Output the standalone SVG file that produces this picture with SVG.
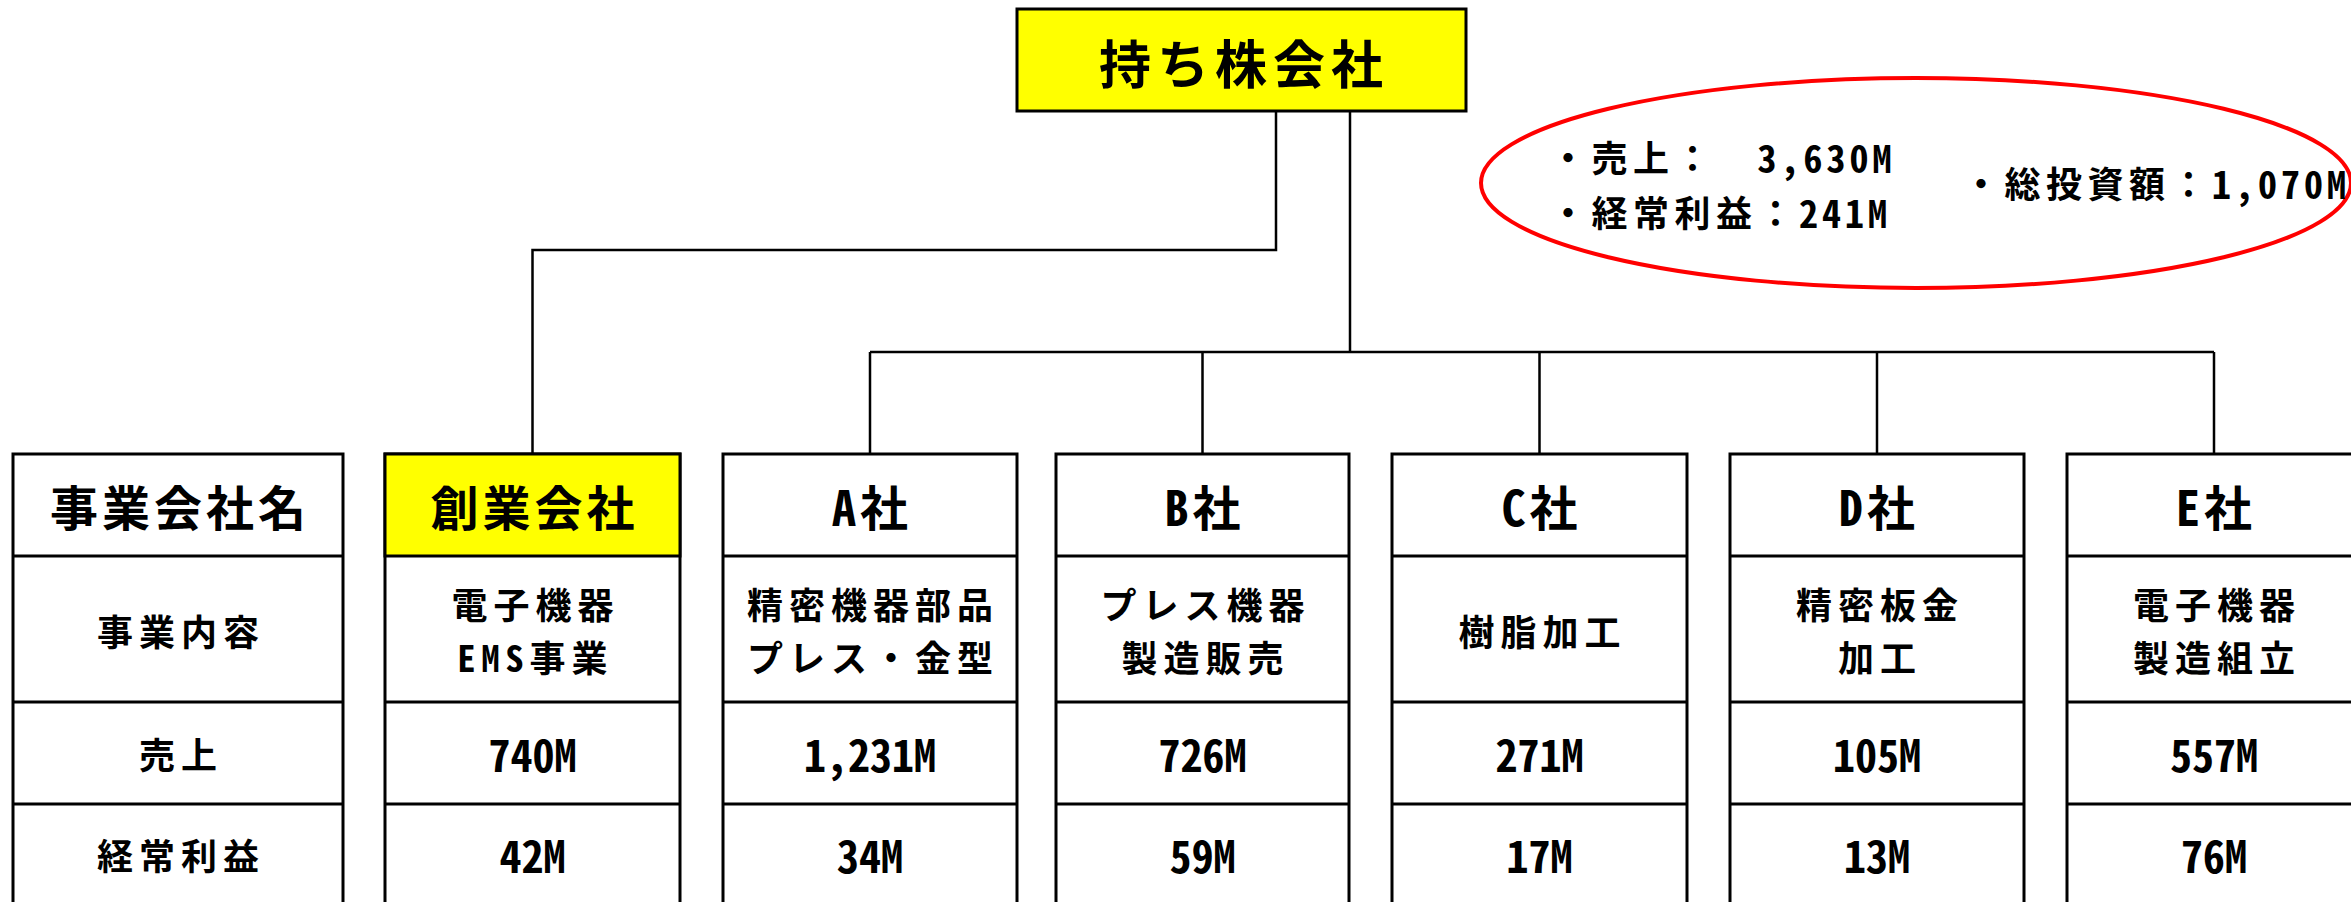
<svg xmlns="http://www.w3.org/2000/svg" width="2351" height="902" viewBox="0 0 2351 902">
<style>
.box{fill:#fff;stroke:#000;stroke-width:3}
.yel{fill:#ff0;stroke:#000;stroke-width:3}
.sep{fill:none;stroke:#000;stroke-width:3}
.con{fill:none;stroke:#000;stroke-width:2.5}
.t{font-family:'Noto Sans CJK JP','Noto Sans CJK SC',sans-serif;font-weight:700;fill:#000;text-anchor:middle;dominant-baseline:central}
.hw{font-feature-settings:"hwid"}
.hd{font-feature-settings:"hwid";font-size:38px;letter-spacing:4px}
.s{text-anchor:start}
.ti{font-size:52px;letter-spacing:6px}
.h{font-size:48px;letter-spacing:4px}
.c{font-size:36px;letter-spacing:6px}
.n{font-size:44px;font-feature-settings:"hwid"}
.e{font-size:36px;letter-spacing:5.5px}
</style>
<rect width="2351" height="902" fill="#fff"/>
<g id="connectors">
<path class="con" d="M1276 111V250H532.5V454"/>
<path class="con" d="M1350 111V352"/>
<path class="con" d="M870 352H2214"/>
<path class="con" d="M870 352V454M1202.5 352V454M1539.5 352V454M1877 352V454M2214 352V454"/>
</g>
<g id="holding">
<rect class="yel" x="1017" y="9" width="449" height="102" stroke-width="3.5"/>
<text class="t ti" x="1244" y="61">持ち株会社</text>
</g>
<g id="summary">
<ellipse cx="1916" cy="183" rx="435" ry="105" fill="none" stroke="#f00" stroke-width="4"/>
<text class="t e s" x="1550" y="156">・売上：　<tspan class="hd">3,630M</tspan></text>
<text class="t e s" x="1550" y="211">・経常利益：<tspan class="hd">241M</tspan></text>
<text class="t e s" x="1963" y="182">・総投資額：<tspan class="hd">1,070M</tspan></text>
</g>
<g id="col-label">
<rect class="box" x="13" y="454" width="330" height="452"/>
<path class="sep" d="M13 556H343M13 702H343M13 804H343"/>
<text class="t h" x="180" y="505">事業会社名</text>
<text class="t c" x="181" y="630">事業内容</text>
<text class="t c" x="181" y="753">売上</text>
<text class="t c" x="181" y="854">経常利益</text>
</g>
<g id="col-founder">
<rect class="box" x="385" y="454" width="295" height="452"/>
<rect class="yel" x="385" y="454" width="295" height="102"/>
<path class="sep" d="M385 702H680M385 804H680"/>
<text class="t h" x="534.5" y="505">創業会社</text>
<text class="t c"><tspan x="535.5" y="603">電子機器</tspan><tspan x="535.5" y="656"><tspan class="hw">EMS</tspan>事業</tspan></text>
<text class="t n" x="532.5" y="753">740M</text>
<text class="t n" x="532.5" y="854">42M</text>
</g>
<g id="col-a">
<rect class="box" x="723" y="454" width="294" height="452"/>
<path class="sep" d="M723 556H1017M723 702H1017M723 804H1017"/>
<text class="t h" x="872" y="505"><tspan class="hw">A</tspan>社</text>
<text class="t c"><tspan x="873" y="603">精密機器部品</tspan><tspan x="873" y="656">プレス・金型</tspan></text>
<text class="t n" x="870" y="753">1,231M</text>
<text class="t n" x="870" y="854">34M</text>
</g>
<g id="col-b">
<rect class="box" x="1056" y="454" width="293" height="452"/>
<path class="sep" d="M1056 556H1349M1056 702H1349M1056 804H1349"/>
<text class="t h" x="1204.5" y="505"><tspan class="hw">B</tspan>社</text>
<text class="t c"><tspan x="1205.5" y="603">プレス機器</tspan><tspan x="1205.5" y="656">製造販売</tspan></text>
<text class="t n" x="1202.5" y="753">726M</text>
<text class="t n" x="1202.5" y="854">59M</text>
</g>
<g id="col-c">
<rect class="box" x="1392" y="454" width="295" height="452"/>
<path class="sep" d="M1392 556H1687M1392 702H1687M1392 804H1687"/>
<text class="t h" x="1541.5" y="505"><tspan class="hw">C</tspan>社</text>
<text class="t c" x="1542.5" y="630">樹脂加工</text>
<text class="t n" x="1539.5" y="753">271M</text>
<text class="t n" x="1539.5" y="854">17M</text>
</g>
<g id="col-d">
<rect class="box" x="1730" y="454" width="294" height="452"/>
<path class="sep" d="M1730 556H2024M1730 702H2024M1730 804H2024"/>
<text class="t h" x="1879" y="505"><tspan class="hw">D</tspan>社</text>
<text class="t c"><tspan x="1880" y="603">精密板金</tspan><tspan x="1880" y="656">加工</tspan></text>
<text class="t n" x="1877" y="753">105M</text>
<text class="t n" x="1877" y="854">13M</text>
</g>
<g id="col-e">
<rect class="box" x="2067" y="454" width="294" height="452"/>
<path class="sep" d="M2067 556H2361M2067 702H2361M2067 804H2361"/>
<text class="t h" x="2216" y="505"><tspan class="hw">E</tspan>社</text>
<text class="t c"><tspan x="2217" y="603">電子機器</tspan><tspan x="2217" y="656">製造組立</tspan></text>
<text class="t n" x="2214" y="753">557M</text>
<text class="t n" x="2214" y="854">76M</text>
</g>
</svg>
